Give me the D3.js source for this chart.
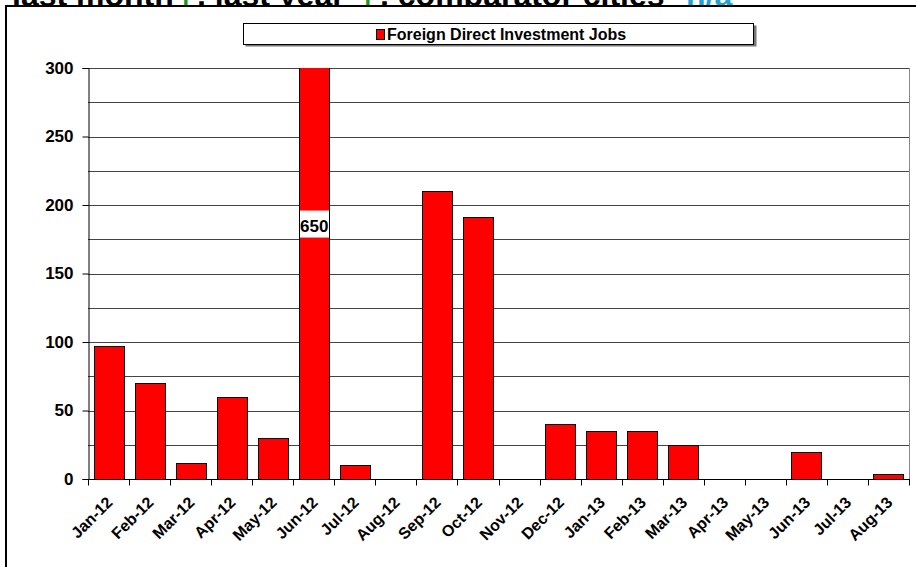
<!DOCTYPE html>
<html><head><meta charset="utf-8">
<script src="https://cdn.jsdelivr.net/npm/d3@7"></script>
<style>body{margin:0;background:#fff;}svg{display:block;font-family:"Liberation Sans",Arial,sans-serif;}</style>
</head><body><svg id="c" width="916" height="567"></svg>
<script>
const categories = ["Jan-12","Feb-12","Mar-12","Apr-12","May-12","Jun-12","Jul-12","Aug-12","Sep-12","Oct-12","Nov-12","Dec-12","Jan-13","Feb-13","Mar-13","Apr-13","May-13","Jun-13","Jul-13","Aug-13"];
const jobs = [97,70,12,60,30,650,10,0,210,191,0,40,35,35,25,0,0,20,0,4];
const yTicks = [0,50,100,150,200,250,300];
const gridTicks = [25,50,75,100,125,150,175,200,225,250,275,300];
const seriesName = "Foreign Direct Investment Jobs";
const titleParts = [["last month",12,"#000"],["\u2191",178,"#1a9a1a"],[", last year",197,"#000"],["\u2191",360,"#1a9a1a"],[", comparator cities",380,"#000"],["n/a",686,"#1fa3d0"]];
const labelled = {"Jun-12": 185};

const svg = d3.select("#c");
// clipped title
const t = svg.append("text").attr("y",5.5).attr("font-size",32).attr("font-weight","bold");
titleParts.forEach(p=>t.append("tspan").attr("x",p[1]).attr("fill",p[2])
  .attr("stroke",p[0]==="\u2191"?p[2]:"none").attr("stroke-width",2).text(p[0]));
// outer frame
svg.append("rect").attr("x",6).attr("y",6).attr("width",930).attr("height",600).attr("fill","#fff").attr("stroke","#000").attr("stroke-width",2);

const m = {l:88, r:909, t:68, b:479};
const x = d3.scaleBand().domain(categories).range([m.l,m.r]).paddingInner(0.27).paddingOuter(0.135);
const xb = d3.scaleBand().domain(categories).range([m.l,m.r]);
const y = d3.scaleLinear().domain([0,300]).range([m.b,m.t]);

// gridlines
svg.append("g").selectAll("line").data(gridTicks).join("line")
  .attr("x1",m.l).attr("x2",m.r).attr("y1",d=>Math.round(y(d))+0.5).attr("y2",d=>Math.round(y(d))+0.5)
  .attr("stroke","#444").attr("stroke-width",1);
// right border
svg.append("line").attr("x1",m.r+0.5).attr("x2",m.r+0.5).attr("y1",m.t).attr("y2",m.b).attr("stroke","#888");

// bars
svg.append("clipPath").attr("id","pc").append("rect").attr("x",m.l).attr("y",m.t).attr("width",m.r-m.l).attr("height",m.b-m.t);
svg.append("g").attr("clip-path","url(#pc)").selectAll("rect").data(categories.map((c,i)=>({c,v:jobs[i]})).filter(d=>d.v>0)).join("rect")
  .attr("x",d=>Math.round(x(d.c))+0.5).attr("width",Math.round(x.bandwidth()))
  .attr("y",d=>Math.round(y(Math.min(d.v,305)))+0.5).attr("height",d=>Math.round(y(0)-y(Math.min(d.v,305))))
  .attr("fill","#ff0000").attr("stroke","#000").attr("stroke-width",1);

// data label
Object.entries(labelled).forEach(([c,pos])=>{
  const v = jobs[categories.indexOf(c)];
  svg.append("rect").attr("x",Math.round(x(c))+1).attr("width",Math.round(x.bandwidth())-1).attr("y",y(pos)-15).attr("height",27).attr("fill","#fff");
  svg.append("text").attr("x",x(c)+x.bandwidth()/2+0.5).attr("y",y(pos)+6.5).attr("text-anchor","middle").attr("font-size",17).attr("font-weight","bold").text(v);
});

// y axis
const ya = svg.append("g").attr("transform",`translate(${m.l+0.5},0)`)
  .call(d3.axisLeft(y).tickValues(yTicks).tickSize(6).tickPadding(9).tickFormat(d3.format("d")));
ya.select(".domain").attr("stroke","#000");
ya.selectAll(".tick line").attr("stroke","#000");
ya.selectAll("text").attr("font-size",17).attr("font-weight","bold").attr("fill","#000").attr("font-family","Liberation Sans, Arial");

// x axis
const xa = svg.append("g").attr("transform",`translate(0,${m.b+0.5})`);
xa.append("line").attr("x1",m.l).attr("x2",m.r+1).attr("stroke","#000");
xa.selectAll("line.tk").data(categories.concat(["__end"])).join("line").attr("class","tk")
  .attr("x1",(d,i)=>Math.round(m.l+i*xb.step())+0.5).attr("x2",(d,i)=>Math.round(m.l+i*xb.step())+0.5)
  .attr("y1",0).attr("y2",6).attr("stroke","#000");
xa.selectAll("text").data(categories).join("text")
  .attr("transform",d=>`translate(${xb(d)+xb.bandwidth()/2+1},${20}) rotate(-45)`)
  .attr("text-anchor","end").attr("dy","0.35em").attr("font-size",16).attr("font-weight","bold").text(d=>d);

// legend
const lg = svg.append("g");
lg.append("rect").attr("x",245.5).attr("y",25.5).attr("width",511).attr("height",21).attr("fill","#777");
lg.append("rect").attr("x",243.5).attr("y",23.5).attr("width",510).attr("height",21).attr("fill","#fff").attr("stroke","#000");
lg.append("rect").attr("x",376.5).attr("y",29.5).attr("width",8).attr("height",10).attr("fill","#ff0000").attr("stroke","#000");
lg.append("text").attr("x",387).attr("y",40).attr("font-size",16).attr("font-weight","bold").text(seriesName);
</script></body></html>
